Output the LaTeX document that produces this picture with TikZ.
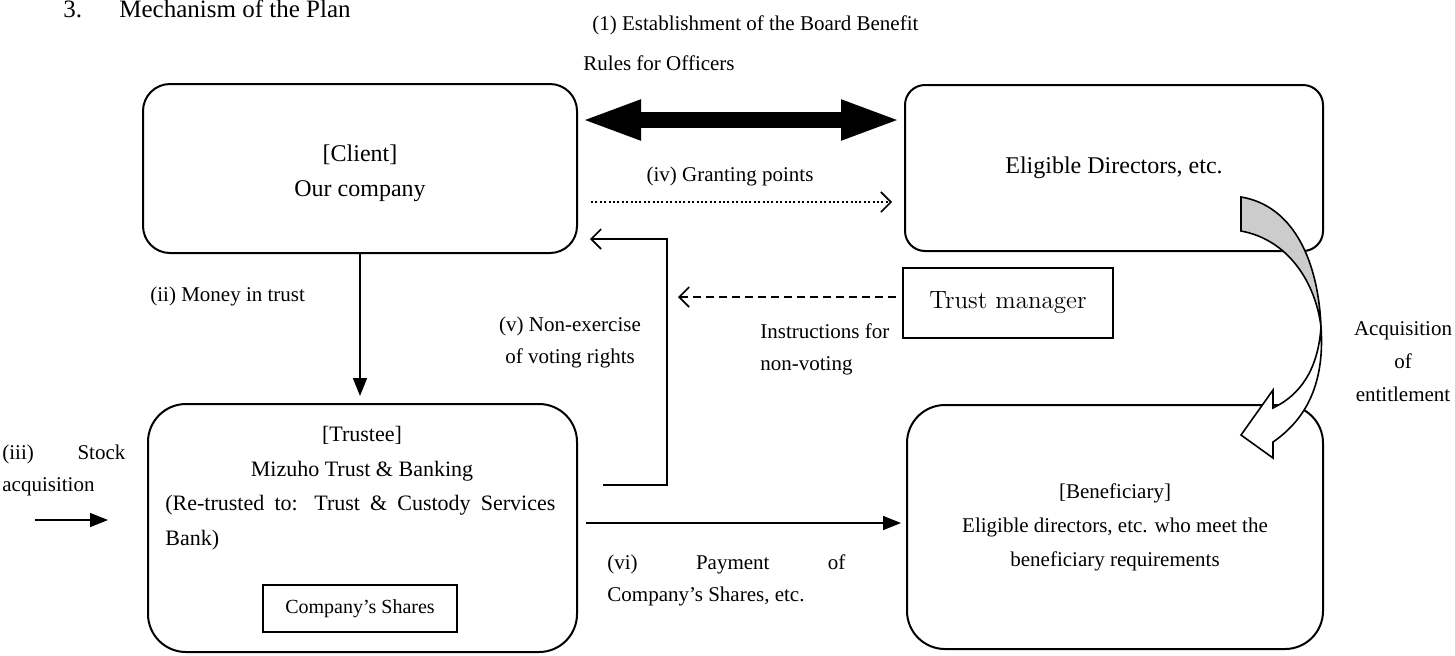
\documentclass[tikz,border=0pt]{standalone}
\usepackage{fontspec}
\setmainfont{Liberation Serif}
\usetikzlibrary{arrows.meta,calc}

\begin{document}
\begin{tikzpicture}[line cap=butt,line join=miter,x=0.5pt,y=-0.5pt,
		box/.style={draw,line width=1pt,rounded corners=#1,align=center,inner sep=0pt},
		box/.default=10pt,
		lbl/.style={font=\fontsize{10.5}{16}\selectfont,inner sep=0pt},
		conn/.style={line width=0.8pt},
		fillhead/.style={-{Triangle[length=9pt,width=7pt]}},
		openhead/.style={-{Straight Barb[length=5pt,width=10pt]}}]
		\useasboundingbox (0,0) rectangle (1455,655);
		% heading
		\node[anchor=base west,inner sep=0pt,font=\fontsize{12.5}{15}\selectfont] (secNum) at (63,17) {3.};
		\node[anchor=base west,inner sep=0pt,font=\fontsize{12.5}{15}\selectfont] (secTitle) at (119,17) {Mechanism of the Plan};
		% boxes
		\node[box=13.5pt,minimum width=217pt,minimum height=84.5pt] (client) at (360,168.5) {};
		\node[align=center,font=\fontsize{12}{17.5}\selectfont] (clientTxt) at (360,173) {[Client]\\Our company};
		\node[box=10pt,minimum width=209pt,minimum height=83pt,font=\fontsize{12}{17.5}\selectfont] (elig) at (1114,168) {Eligible Directors, etc.};
		\node[box=19pt,minimum width=214.5pt,minimum height=124pt] (trustee) at (362.5,528) {};
		\node[box=19pt,minimum width=208pt,minimum height=122pt,font=\fontsize{10.5}{17}\selectfont] (benef) at (1115,527) {[Beneficiary]\\Eligible directors, etc. who meet the\\beneficiary requirements};
		\node[draw,line width=1pt,minimum width=105pt,minimum height=35pt,font=\fontfamily{lmr}\fontsize{12.5}{15}\selectfont] (tm) at (1008,303) {Trust manager};
		% inside the trustee box
		\node[font=\fontsize{11}{13}\selectfont] (trTitle) at (362,435) {[Trustee]};
		\node[font=\fontsize{11}{13}\selectfont] (trName) at (362,471) {Mizuho Trust \& Banking};
		\node[anchor=west,inner sep=0pt,font=\fontsize{11}{13}\selectfont] (trRe) at (165,505) {\makebox[195pt][s]{(Re-trusted to: Trust \& Custody Services}};
		\node[anchor=west,inner sep=0pt,font=\fontsize{11}{13}\selectfont] (trBank) at (165,540) {Bank)};
		\node[draw,line width=0.8pt,minimum width=97pt,minimum height=23.5pt,font=\fontsize{10}{12}\selectfont] (shares) at (360,608.5) {Company's Shares};
		% labels
		\node[lbl,anchor=west] (lblRuleA) at (592,25) {(1) Establishment of the Board Benefit};
		\node[lbl,anchor=west] (lblRuleB) at (583,63) {Rules for Officers};
		\node[lbl] (lblPoints) at (730,176) {(iv) Granting points};
		\node[lbl,anchor=west] (lblMoney) at (150,296) {(ii) Money in trust};
		\node[lbl,align=center] (lblVote) at (570,342) {(v) Non-exercise\\of voting rights};
		\node[lbl,align=left,anchor=west] (lblInstr) at (760,349) {Instructions for\\non-voting};
		\node[lbl,align=left,anchor=west] (lblStock) at (2,470) {\makebox[61.5pt][s]{(iii) Stock}\\acquisition};
		\node[lbl,align=left,anchor=west] (lblPay) at (607,580) {\makebox[119pt][s]{(vi) Payment of}\\Company's Shares, etc.};
		\node[lbl,align=center,font=\fontsize{10.5}{16.5}\selectfont] (lblAcq) at (1403,362) {Acquisition\\of\\entitlement};
		% connectors
		\draw[line width=8pt,{Triangle[length=30.5pt,width=18pt]}-{Triangle[length=30.5pt,width=18pt]}] ($(client.east)+(2,-48.5)$) -- ($(elig.west)+(-2,-48)$);
		\draw[conn,dash pattern=on 1pt off 1.2pt,openhead] ($(client.east)+(13,33.5)$) -- ($(elig.west)+(-12,34)$);
		\draw[conn,fillhead,shorten >=3.5pt] (client.south) -- (client.south |- trustee.north);
		\coordinate (stockA) at (35,520);
		\coordinate (stockB) at (108,520);
		\draw[conn,fillhead] (stockA) -- (stockB);
		\coordinate (voteA) at (603,485);
		\coordinate (voteB) at (667,239);
		\draw[conn,openhead] (voteA) -| (voteB) -- ($(client.east |- voteB)+(12,0)$);
		\coordinate (instrEnd) at (678,297);
		\draw[conn,dash pattern=on 4pt off 2.5pt,openhead] ($(tm.west)+(-6,-6)$) -- (instrEnd);
		\draw[conn,fillhead] ($(trustee.east)+(8,-5)$) -- ($(benef.west)+(-5,-4)$);
		% acquisition of entitlement (curved arrow over the boxes)
		\filldraw[fill=black!20,line width=0.8pt] (1241,197) .. controls (1290,205) and (1318,255) .. (1321,327) .. controls (1316,285) and (1290,240) .. (1241,231) -- cycle;
		\filldraw[fill=white,line width=0.8pt] (1321,327) .. controls (1318,370) and (1300,395) .. (1273,408) -- (1273,390) -- (1241,435) -- (1273,458) -- (1273,442) .. controls (1305,420) and (1325,385) .. (1321,327) -- cycle;
\end{tikzpicture}
\end{document}
